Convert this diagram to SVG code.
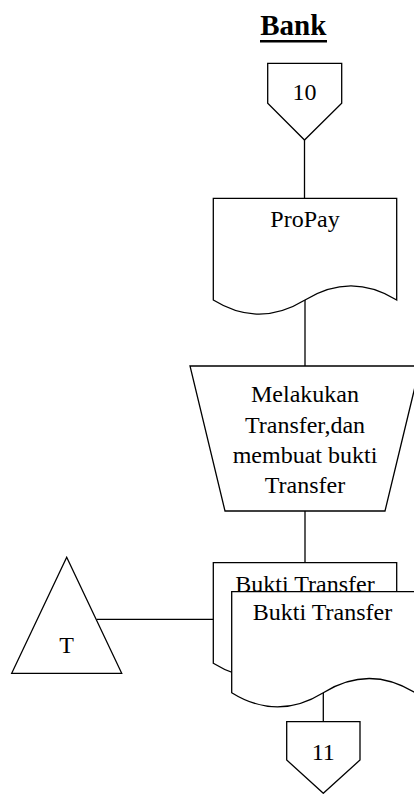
<svg xmlns="http://www.w3.org/2000/svg" width="414" height="794" viewBox="0 0 414 794">
<style>
.s{fill:#fff;stroke:#000;stroke-width:1.3;stroke-linejoin:miter}
.c{fill:none;stroke:#000;stroke-width:1.3}
.t{font-family:"Liberation Serif","Times New Roman",serif;font-size:24px;fill:#000;text-anchor:middle}
</style>
<rect width="414" height="794" fill="#fff"/>
<g id="title">
<text x="293.3" y="35" class="t" style="font-size:29px;font-weight:bold">Bank</text>
<line x1="260" y1="41.3" x2="327" y2="41.3" stroke="#000" stroke-width="2.6"/>
</g>
<g id="connectors">
<line class="c" x1="304.5" y1="140" x2="304.5" y2="198.3"/>
<line class="c" x1="305" y1="300" x2="305" y2="366"/>
<line class="c" x1="305" y1="511" x2="305" y2="562.7"/>
<line class="c" x1="96.7" y1="619.3" x2="213.3" y2="619.3"/>
<line class="c" x1="323.3" y1="692.7" x2="323.3" y2="721.7"/>
</g>
<g id="offpage10">
<path class="s" d="M267.7,63.3 H341.7 V103.3 L304.5,140 L267.7,103.3 Z"/>
<text class="t" x="304.5" y="100">10</text>
</g>
<g id="propay">
<path class="s" d="M213.3,198.3 H396.7 V300 C366,281 336,281 305,300 C274,319 244,319 213.3,300 Z"/>
<text class="t" x="305" y="226.7">ProPay</text>
</g>
<g id="process">
<path class="s" d="M190,366 H420 L385,511 H225 Z"/>
<text class="t" x="305" y="402">Melakukan</text>
<text class="t" x="305" y="432.5">Transfer,dan</text>
<text class="t" x="305" y="463">membuat bukti</text>
<text class="t" x="305" y="493">Transfer</text>
</g>
<g id="doc-back">
<path class="s" d="M213.3,562.7 H396.7 V663.3 C366,644.3 336,644.3 305,663.3 C274,682.3 244,682.3 213.3,663.3 Z"/>
<text class="t" x="305" y="591.7">Bukti Transfer</text>
</g>
<g id="doc-front">
<path class="s" d="M231.7,591.7 H415 V692.7 C384.4,673.7 354,673.7 323.3,692.7 C292.7,711.7 262.3,711.7 231.7,692.7 Z"/>
<text class="t" x="322.5" y="620">Bukti Transfer</text>
</g>
<g id="archive-T">
<path class="s" d="M66.7,557.3 L121.7,673.3 H11.7 Z"/>
<text class="t" x="66.7" y="653.3">T</text>
</g>
<g id="offpage11">
<path class="s" d="M286.7,721.7 H360 V760 L323.3,793.3 L286.7,760 Z"/>
<text class="t" x="323.3" y="760">11</text>
</g>
</svg>
